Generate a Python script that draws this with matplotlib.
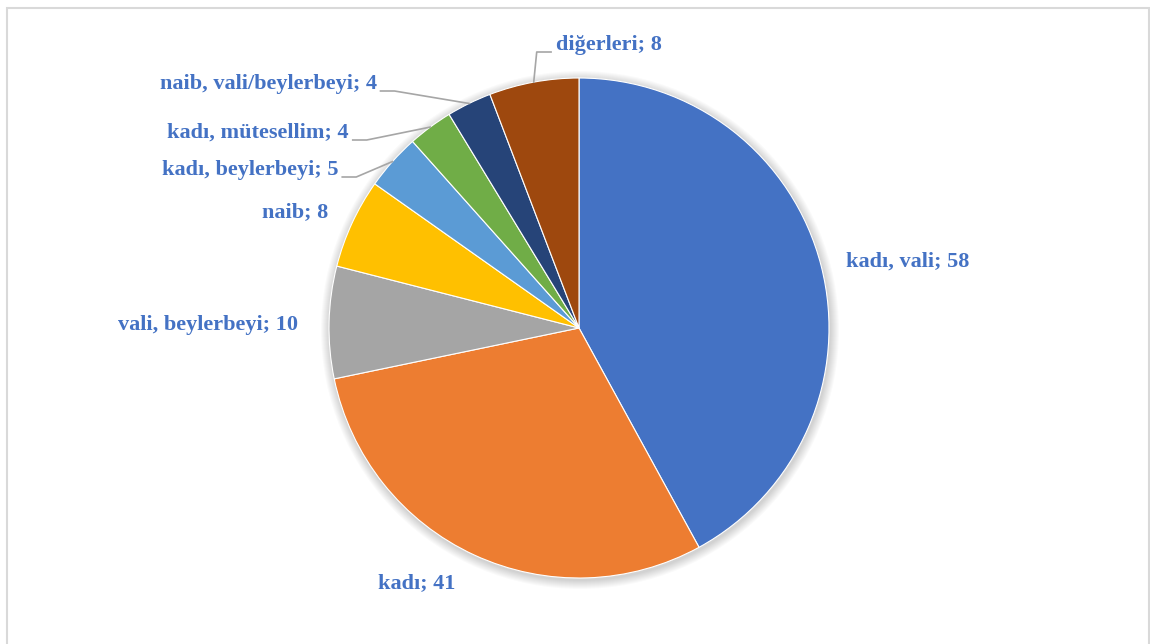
import numpy as np
import matplotlib.pyplot as plt
from matplotlib.patches import Rectangle, Circle

# veriler
labels = ['kadı, vali', 'kadı', 'vali, beylerbeyi', 'naib', 'kadı, beylerbeyi',
          'kadı, mütesellim', 'naib, vali/beylerbeyi', 'diğerleri']
values = [58, 41, 10, 8, 5, 4, 4, 8]
colors = ['#4472C4', '#ED7D31', '#A5A5A5', '#FFC000', '#5B9BD5',
          '#70AD47', '#264478', '#9E480E']

# label layout (pixel coords, y from top) and which ones get a leader line
label_xy = [(908, 262), (417, 583), (208, 325), (295, 212), (250, 170),
            (258, 133), (268, 84), (609, 45)]
leader = [False, False, False, False, True, True, True, True]

plt.rcParams['font.family'] = ['Liberation Serif', 'DejaVu Serif']

fig = plt.figure(figsize=(11.5, 6.44), dpi=100)
ax = fig.add_axes([0, 0, 1, 1])

cx, cy, r = 579, 328, 250

# soft shadow around the pie
for i in range(9):
    ax.add_patch(Circle((cx + 1, cy + 2), r + 1 + i, color='#000000', alpha=0.02, lw=0, zorder=0))

wedges, _ = ax.pie(values, colors=colors, startangle=270, counterclock=True,
                   center=(cx, cy), radius=r, frame=True,
                   wedgeprops=dict(edgecolor='white', linewidth=0.8))
ax.set_xlim(0, 1150)
ax.set_ylim(644, 0)
ax.set_aspect('equal')
ax.axis('off')

renderer = fig.canvas.get_renderer()
for w, lab, v, (tx, ty), has_line in zip(wedges, labels, values, label_xy, leader):
    t = ax.text(tx, ty, f'{lab}; {v}', ha='center', va='center', fontsize=16,
                fontweight='bold', color='#4472C4')
    if not has_line:
        continue
    mid = np.deg2rad((w.theta1 + w.theta2) / 2)
    ex, ey = cx + r * np.cos(mid), cy + r * np.sin(mid)
    bb = t.get_window_extent(renderer)
    if lab == 'diğerleri':
        x0 = bb.x0 - 5
        xs = [ex, ex + 3, x0]
        ys = [ey, ty + 7, ty + 7]
    else:
        x0 = bb.x1 + 4
        xs = [x0, x0 + 14, ex]
        ys = [ty + 7, ty + 7, ey]
    ax.plot(xs, ys, color='#A6A6A6', lw=1.2, zorder=5)

fig.patches.append(Rectangle((7, -10), 1142, 646, transform=None, fill=False,
                             edgecolor='#D9D9D9', lw=1.5))

fig.savefig('out.png', dpi=100)
